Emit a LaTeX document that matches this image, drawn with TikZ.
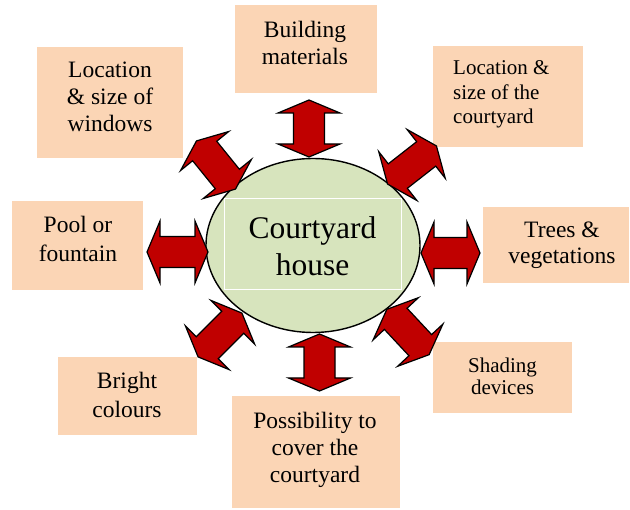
\documentclass[tikz,border=0pt]{standalone}
\usepackage{fontspec}
\setmainfont{LiberationSerif}[Extension=.ttf, UprightFont=*-Regular, BoldFont=*-Bold, ItalicFont=*-Italic]
\usetikzlibrary{shapes.geometric}
\definecolor{peach}{HTML}{FBD5B5}
\definecolor{sage}{HTML}{D7E4BD}
\definecolor{arrowred}{HTML}{C00000}
\tikzset{
  boxnode/.style={rectangle, fill=peach, inner sep=0pt},
  txt/.style={inner sep=0pt, align=center, font=\fontsize{23.5}{27}\selectfont},
  smalltxt/.style={inner sep=0pt, font=\fontsize{21}{24.5}\selectfont},
  blockarrow/.style={fill=arrowred, draw=black, line width=1.2pt, line join=miter},
}
\newcommand\dblarrow[4]{%
  \draw[blockarrow, shift={(#1,#2)}, rotate=#3]
    ({-#4/2},0) -- ({-#4/2+13},31) -- ({-#4/2+13},15.5) -- ({#4/2-13},15.5)
    -- ({#4/2-13},31) -- ({#4/2},0) -- ({#4/2-13},-31) -- ({#4/2-13},-15.5)
    -- ({-#4/2+13},-15.5) -- ({-#4/2+13},-31) -- cycle;}
\begin{document}
\begin{tikzpicture}[x=1pt, y=-1pt]
\useasboundingbox[fill=white] (0,0) rectangle (630,510);

% boxes
\node[boxnode, minimum width=142pt, minimum height=88pt]  (build) at (306,49) {};
\node[boxnode, minimum width=146pt, minimum height=111pt] (wind)  at (110,102.5) {};
\node[boxnode, minimum width=150pt, minimum height=101pt] (cbox)  at (508,96.5) {};
\node[boxnode, minimum width=131pt, minimum height=89pt]  (pool)  at (77.5,245.5) {};
\node[boxnode, minimum width=146pt, minimum height=76pt]  (trees) at (556,245) {};
\node[boxnode, minimum width=139pt, minimum height=78pt]  (bright) at (127.5,396) {};
\node[boxnode, minimum width=168pt, minimum height=112pt] (poss)  at (316,452) {};
\node[boxnode, minimum width=139pt, minimum height=71pt]  (shade) at (502.5,377.5) {};

% texts
\node[txt, anchor=north] (tbuild) at (305,21) {Building\\materials};
\node[txt, anchor=north] (twind) at (110,62) {Location\\\& size of\\windows};
\node[smalltxt, align=left, anchor=north west] (tcbox) at (453,60.7) {Location \&\\size of the\\courtyard};
\node[txt, anchor=north, font=\fontsize{23.5}{28.5}\selectfont] (tpool) at (78,216) {Pool or\\fountain};
\node[txt, anchor=north, font=\fontsize{23.5}{26}\selectfont] (ttrees) at (562,222) {Trees \&\\vegetations};
\node[txt, anchor=north, font=\fontsize{23.5}{29}\selectfont] (tbright) at (127,372) {Bright\\colours};
\node[txt, anchor=north] (tposs) at (315,411.5) {Possibility to\\cover the\\courtyard};
\node[smalltxt, align=center, anchor=north, font=\fontsize{21}{22.5}\selectfont] (tshade) at (502.5,357.4) {Shading\\devices};

% centre
\node[ellipse, draw=black, line width=1.4pt, fill=sage, minimum width=214pt, minimum height=174pt, inner sep=0pt] (hub) at (313,245.5) {};
\draw[white, line width=1pt] (224,199) rectangle (401,290);
\node[inner sep=0pt, align=center, anchor=north, font=\fontsize{31.5}{37}\selectfont] (thub) at (312.5,216.8) {Courtyard\\house};

% arrows
\dblarrow{309}{128.5}{90}{57}
\dblarrow{319.5}{362.5}{90}{57}
\dblarrow{177.5}{252}{0}{61}
\dblarrow{450.5}{253}{0}{59}
\dblarrow{216}{165}{-51}{62}
\dblarrow{412}{165}{38}{62}
\dblarrow{220}{335}{45}{62}
\dblarrow{408}{332}{-47}{62}
\end{tikzpicture}
\end{document}
